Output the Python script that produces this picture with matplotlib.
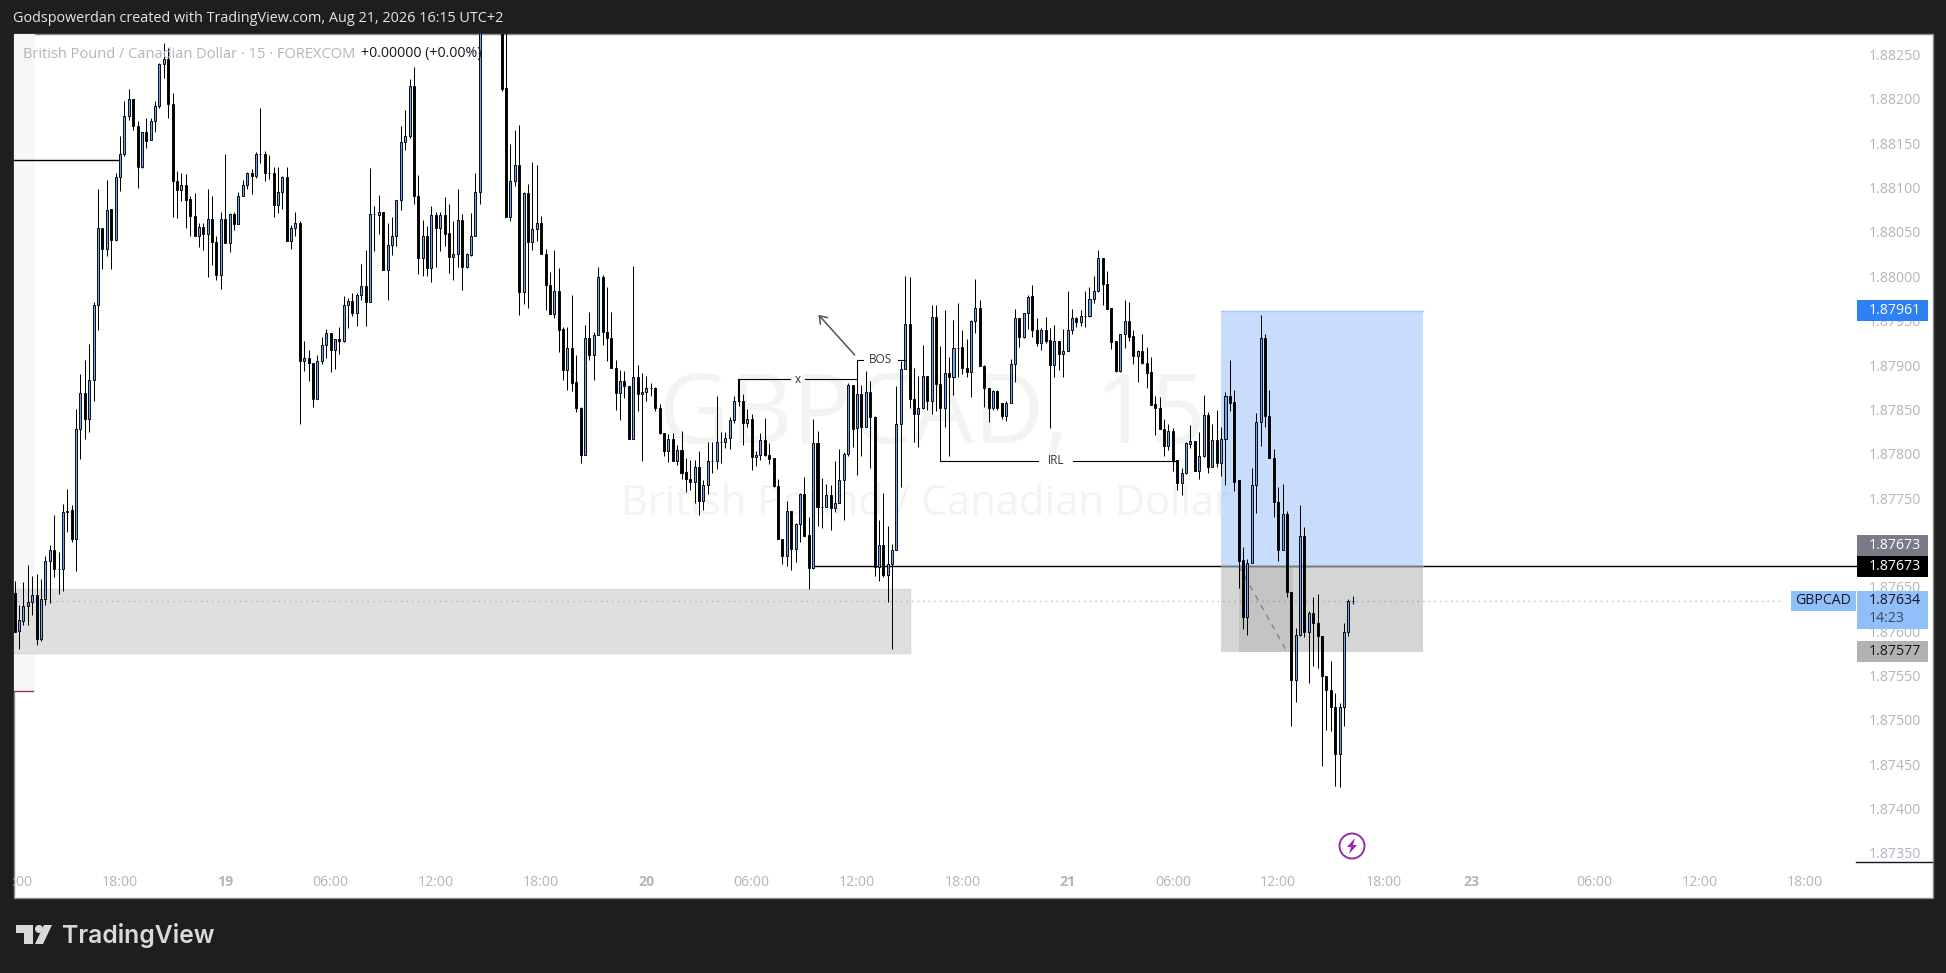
import numpy as np
from matplotlib import pyplot as plt
from matplotlib.patches import Rectangle, Circle, Polygon
from matplotlib.transforms import blended_transform_factory

plt.rcParams['font.family'] = ['Open Sans', 'DejaVu Sans']

BASE = 1.87
# 15 minute bars, in pipettes above BASE
open_pts = [643,600,611,628,633,641,591,636,679,691,670,670,735,736,704,828,869,839,883,968,
    1054,1031,1076,1041,1112,1138,1181,1200,1169,1123,1163,1154,1175,1192,1239,1245,1194,1107,1097,1103,
    1087,1068,1045,1056,1048,1065,1039,1001,1065,1038,1070,1059,1091,1103,1117,1113,1138,1138,1117,1117,
    1080,1095,1112,1040,1055,1060,904,908,902,862,905,923,936,917,929,927,968,972,959,979,
    989,971,1070,1069,1072,1007,1035,1045,1086,1151,1158,1215,1091,1021,1046,1009,1069,1055,1069,1049,
    1022,1025,1063,1010,1024,1046,1095,1300,1320,1335,1320,1300,1212,1067,1107,1126,982,1094,1039,1053,
    1060,1025,990,958,983,941,894,919,881,852,799,930,911,934,999,937,931,897,869,882,
    876,817,886,867,870,874,874,852,823,803,817,792,804,779,772,768,785,747,765,792,
    792,813,813,818,838,860,860,835,839,796,798,815,798,795,764,704,685,735,693,721,
    755,708,671,812,740,740,754,739,745,770,800,877,829,867,830,870,841,672,697,663,
    676,692,834,895,946,862,845,851,888,860,954,879,852,891,886,919,920,897,892,950,
    964,899,874,852,871,857,842,857,901,953,932,959,978,939,925,939,928,900,927,912,
    916,940,953,948,955,955,974,983,1021,991,964,927,893,935,950,933,910,916,902,892,
    856,852,828,809,826,793,767,778,811,814,781,797,844,785,815,790,817,865,858,770,
    680,616,677,765,836,931,842,795,746,692,732,644,545,596,707,599,620,609,595,549,
    534,514,461,515,599,634]
close_pts = [599,612,628,633,641,591,636,679,691,670,670,734,734,704,828,869,839,883,968,1054,
    1031,1075,1041,1112,1138,1181,1200,1169,1123,1163,1153,1175,1192,1239,1245,1194,1107,1097,1103,1086,
    1068,1045,1056,1048,1065,1039,1001,1065,1038,1070,1059,1091,1103,1117,1113,1138,1138,1117,1117,1080,
    1095,1112,1040,1055,1060,904,908,902,862,905,923,936,917,929,927,968,972,959,979,989,
    971,1070,1070,1072,1007,1035,1045,1086,1151,1158,1215,1090,1021,1046,1009,1069,1055,1069,1048,1022,
    1025,1063,1010,1025,1046,1095,1300,1320,1335,1320,1300,1211,1067,1107,1126,982,1094,1039,1053,1060,
    1025,990,958,983,940,894,919,880,852,799,930,911,934,999,937,931,897,869,882,876,
    817,886,867,870,874,874,852,823,803,817,792,804,778,772,768,785,747,765,792,792,
    813,813,818,838,859,859,835,839,796,798,815,798,794,764,704,685,735,693,721,755,
    707,671,812,740,740,754,739,745,770,800,877,828,867,830,870,841,672,697,663,676,
    692,834,895,946,862,845,851,888,860,954,879,852,891,886,919,919,897,892,950,964,
    899,874,852,871,851,842,857,901,953,932,959,977,939,925,939,927,900,927,912,916,
    940,953,948,955,955,974,983,1021,991,963,926,893,935,950,932,910,916,902,891,855,
    852,828,809,826,793,767,778,812,814,781,797,844,785,815,790,817,865,857,768,679,
    616,677,765,836,931,842,795,746,692,732,644,545,596,707,599,620,609,595,549,534,
    514,461,515,599,634,634]
high_pts = [657,629,655,675,662,664,659,685,697,731,689,743,760,742,850,890,906,924,971,1098,
    1054,1109,1076,1116,1158,1198,1211,1200,1175,1163,1179,1178,1198,1241,1263,1257,1207,1119,1117,1115,
    1090,1094,1060,1060,1098,1091,1046,1072,1138,1071,1072,1095,1109,1118,1121,1140,1190,1141,1137,1123,
    1123,1113,1123,1058,1072,1062,927,917,902,911,932,941,936,929,943,978,975,981,981,1014,
    1030,1122,1079,1092,1072,1060,1067,1086,1170,1187,1223,1236,1114,1064,1057,1079,1072,1073,1089,1082,
    1062,1098,1070,1026,1071,1117,1310,1335,1345,1350,1330,1310,1290,1149,1165,1171,1095,1104,1129,1125,
    1068,1031,1005,1030,1009,943,943,979,911,853,945,960,937,1010,1002,988,960,906,894,893,
    876,1012,900,891,888,880,875,856,823,822,823,810,826,795,793,793,803,770,813,813,
    865,824,825,841,865,884,867,850,845,803,823,840,812,795,771,704,747,735,722,756,
    774,729,839,826,773,766,765,792,805,802,880,877,905,877,893,882,842,725,756,718,
    698,876,904,1000,999,897,888,923,888,968,968,922,962,909,951,970,939,929,951,997,
    973,900,874,872,872,857,859,907,963,953,959,979,990,953,942,954,942,945,927,941,
    983,963,954,962,983,988,1000,1030,1021,1006,964,927,935,973,971,939,917,935,920,909,
    865,864,839,833,829,793,784,813,832,814,825,866,847,834,849,830,870,906,872,770,
    695,681,784,846,956,935,872,805,762,766,735,644,604,742,717,623,638,642,595,549,
    566,530,519,609,636,640]
low_pts = [599,580,607,607,618,584,589,630,632,661,642,645,712,701,668,794,817,825,860,940,
    1008,1023,1008,1040,1096,1136,1176,1165,1100,1122,1145,1154,1163,1190,1224,1179,1067,1066,1085,1054,
    1046,1045,1033,1030,999,1013,996,986,1038,1027,1052,1059,1091,1098,1093,1111,1128,1107,1110,1067,
    1071,1076,1040,1031,1046,833,893,882,853,862,901,908,892,896,912,926,942,955,944,973,
    944,971,1028,1048,1007,973,1024,1034,1075,1142,1156,1082,1003,1000,1000,994,1011,1029,1034,1004,
    996,1010,985,1009,1023,1046,1081,1290,1310,1305,1290,1209,1067,1062,1102,956,969,964,1030,1040,
    1025,962,957,953,915,883,872,871,847,790,799,906,883,934,923,904,897,849,838,863,
    817,817,848,792,860,865,848,822,797,791,792,787,772,757,759,744,731,736,755,778,
    783,790,807,805,835,854,810,830,782,786,793,797,788,763,704,676,673,669,678,700,
    707,647,670,718,716,740,714,734,745,725,797,808,776,797,830,784,662,657,661,633,
    580,692,763,895,851,813,808,850,849,845,848,792,830,797,866,887,890,887,864,936,
    899,853,836,849,849,839,837,857,881,920,931,941,932,921,917,925,829,886,894,887,
    916,935,943,944,943,954,970,982,968,963,918,892,892,919,927,901,881,901,874,855,
    821,828,797,804,781,759,754,777,806,781,772,796,778,785,785,775,765,848,758,649,
    602,596,677,733,809,830,795,729,679,692,638,493,520,595,593,542,561,558,448,489,
    487,425,424,493,595,631]

price_ticks = [1.87350, 1.87400, 1.87450, 1.87500, 1.87550, 1.87600, 1.87650, 1.87700, 1.87750, 1.87800,
    1.87850, 1.87900, 1.87950, 1.88000, 1.88050, 1.88100, 1.88150, 1.88200, 1.88250]
time_ticks = [0, 24, 48, 72, 96, 120, 144, 168, 192, 216, 240, 264, 288, 312, 332, 360, 384, 408]
time_labels = ['12:00', '18:00', '19', '06:00', '12:00', '18:00', '20', '06:00', '12:00', '18:00',
    '21', '06:00', '12:00', '18:00', '23', '06:00', '12:00', '18:00']
date_labels = ['19', '20', '21', '23']

last_price = 1.87634
entry_price = 1.87673
target_price = 1.87961
stop_price = 1.87577
zone_top = 1.87647
zone_bottom = 1.87575

DARK = '#1e1e1e'
TICK = '#b2b5be'
UP = '#6aa5f5'
LABEL_BLUE = '#90bff9'


def to_price(pts):
    return BASE + np.array(pts) / 1e5


def draw_candles(ax):
    o, h, l, c = map(to_price, (open_pts, high_pts, low_pts, close_pts))
    x = np.arange(len(o))
    ax.vlines(x, l, h, color='black', lw=0.72, zorder=4)
    up = c >= o
    ax.bar(x[up], (c - o)[up], bottom=o[up], width=0.46, color=UP, edgecolor='black', lw=0.65, zorder=5)
    ax.bar(x[~up], (c - o)[~up], bottom=o[~up], width=0.46, color='black', edgecolor='black', lw=0.65, zorder=5)


def draw_drawings(ax):
    # support zone
    ax.add_patch(Rectangle((-2, zone_bottom), 206.1, zone_top - zone_bottom, fc='#dfdfdf', ec='#d8d8d8', lw=1, zorder=1.5))
    # left session band and its red floor
    ax.add_patch(Rectangle((-2, 1.87532), 6.7, 0.1, fc='#f7f7f7', ec='none', zorder=1))
    ax.plot([-2, 4.2], [1.87532, 1.87532], color='#b2265f', lw=1, zorder=2)
    ax.plot([-2, 24], [1.88131, 1.88131], color='black', lw=1, zorder=3)
    ax.plot([182, 420], [entry_price, entry_price], color='black', lw=1, zorder=2)
    ax.plot([-2, 403], [last_price, last_price], color=LABEL_BLUE, lw=1, ls=(0, (1, 3)), zorder=2)

    # long position tool
    ax.add_patch(Rectangle((274.9, entry_price), 46.2, target_price - entry_price, fc='#5a96f5', alpha=0.33, ec='none', zorder=2.5))
    ax.plot([274.9, 321.1], [target_price, target_price], color='#a6c3f5', lw=1, zorder=2.6)
    ax.add_patch(Rectangle((274.9, stop_price), 46.2, entry_price - stop_price, fc='#808080', alpha=0.33, ec='none', zorder=2.5))
    ax.add_patch(Rectangle((279.1, stop_price), 12.2, entry_price - stop_price, fc='#808080', alpha=0.2, ec='none', zorder=2.6))
    ax.plot([274.9, 321.1], [entry_price, entry_price], color='#7a7a85', lw=1, zorder=2.7)
    ax.plot([279.1, 290], [1.87673, 1.87577], color='#80838d', lw=1, ls=(0, (4, 4)), zorder=2.8)

    # bracket labels
    ax.plot([164.9, 164.9], [1.87860, 1.87884], color='black', lw=0.8, zorder=6)
    ax.plot([164.9, 176.8], [1.87884, 1.87884], color='black', lw=0.8, zorder=6)
    ax.plot([180.2, 192], [1.87884, 1.87884], color='black', lw=0.8, zorder=6)
    ax.plot([192, 192], [1.87884, 1.87906], color='black', lw=0.8, zorder=6)
    ax.plot([192, 193.4], [1.87906, 1.87906], color='black', lw=0.8, zorder=6)
    ax.plot([201.4, 203], [1.87906, 1.87906], color='black', lw=0.8, zorder=6)
    ax.plot([211, 233.3], [1.87792, 1.87792], color='black', lw=0.8, zorder=6)
    ax.plot([241.3, 265], [1.87792, 1.87792], color='black', lw=0.8, zorder=6)
    ax.text(178.5, 1.87884, 'x', ha='center', va='center', fontsize=8.5, color='#333333', zorder=7)
    ax.text(197.4, 1.87906, 'BOS', ha='center', va='center', fontsize=8.5, color='#333333', zorder=7)
    ax.text(237.3, 1.87792, 'IRL', ha='center', va='center', fontsize=8.5, color='#333333', zorder=7)
    ax.annotate('', xy=(182.8, 1.87959), xytext=(191.9, 1.87909),
                arrowprops=dict(arrowstyle='->,head_length=0.5,head_width=0.35', color='#50535e', lw=1.1), zorder=6)


def price_tag(ax, price, text, bg, fg, height=21):
    # tag on the price scale, 21 px high by default
    tr = blended_transform_factory(ax.transAxes, ax.transData)
    half = height / 2 / 88700
    ax.add_patch(Rectangle((1.0, price - half), 70.7 / 1843.5, 2 * half, fc=bg, ec='none', transform=tr, clip_on=False, zorder=10))
    ax.text(1 + 12 / 1843.5, price, text, color=fg, ha='left', va='center', fontsize=10.2, transform=tr, clip_on=False, zorder=11)


fig = plt.figure(figsize=(19.46, 9.73), dpi=100, facecolor=DARK)

# pixel canvas behind the chart
back = fig.add_axes([0, 0, 1, 1], zorder=0)
back.set_xlim(0, 1946)
back.set_ylim(973, 0)
back.axis('off')
back.add_patch(Rectangle((13.5, 34), 1919, 863.5, fc='white', ec='#8a8a8a', lw=1))
back.text(932, 418, 'GBPCAD, 15', fontsize=70, color='#f2f4f4', ha='center', va='center')
back.text(926, 504, 'British Pound / Canadian Dollar', fontsize=30, color='#f2f4f4', ha='center', va='center')

ax = fig.add_axes([13.5 / 1946, 1 - 862 / 973, 1843.5 / 1946, 828 / 973], zorder=1)
ax.patch.set_alpha(0)
ax.set_xlim(-0.27, 419.95)
ax.set_ylim(BASE + 339.7 / 1e5, BASE + 1273.2 / 1e5)
for s in ax.spines.values():
    s.set_visible(False)

draw_drawings(ax)
draw_candles(ax)

ax.yaxis.tick_right()
ax.set_yticks(price_ticks)
ax.set_yticklabels(['%.5f' % p for p in price_ticks])
ax.tick_params(axis='y', length=0, pad=8.6, labelsize=10.2, labelcolor=TICK)
ax.set_xticks(time_ticks)
ax.set_xticklabels(time_labels)
ax.tick_params(axis='x', length=0, pad=9, labelsize=10.2, labelcolor=TICK)
for lab in ax.get_xticklabels():
    if lab.get_text() in date_labels:
        lab.set_fontweight('bold')

price_tag(ax, target_price, '%.5f' % target_price, '#2f7ff5', 'white')
price_tag(ax, entry_price + 21 / 88700, '%.5f' % entry_price, '#787b86', 'white')
price_tag(ax, entry_price, '%.5f' % entry_price, 'black', 'white')
price_tag(ax, stop_price, '%.5f' % stop_price, '#b2b2b2', '#131722')

# overlay in pixels: last price tag, header, logo, frame
top = fig.add_axes([0, 0, 1, 1], zorder=2)
top.set_xlim(0, 1946)
top.set_ylim(973, 0)
top.axis('off')
top.add_patch(Rectangle((1857, 590.7), 70.7, 38, fc=LABEL_BLUE, ec='none'))
top.add_patch(Rectangle((1791, 590.7), 65, 20.5, fc=LABEL_BLUE, ec='none'))
top.text(1823.5, 601, 'GBPCAD', fontsize=10.2, color='#131722', ha='center', va='center')
top.text(1869, 601, '%.5f' % last_price, fontsize=10.2, color='#131722', ha='left', va='center')
top.text(1869, 619, '14:23', fontsize=10.2, color='#3c4a5c', ha='left', va='center')
top.plot([1856, 1932], [862, 862], color='#131722', lw=1)
top.add_patch(Rectangle((0, 34), 13, 863, fc=DARK, ec='none'))

top.text(13, 19, 'Godspowerdan created with TradingView.com, Aug 21, 2026 16:15 UTC+2', fontsize=10.4, color='#e6e6e6', ha='left', va='center')
top.text(23, 54, 'British Pound / Canadian Dollar · 15 · FOREXCOM', fontsize=10.5, color=TICK, ha='left', va='center')
top.text(361, 54, '+0.00000 (+0.00%)', fontsize=10.2, color='#131722', ha='left', va='center')

# lightning badge
top.add_patch(Circle((1352, 846), 12.5, fc='white', ec='#9c27b0', lw=1.4))
top.add_patch(Polygon([(1355, 838), (1347, 847), (1351, 847), (1349, 854), (1357, 845), (1353, 845)], fc='#9c27b0', ec='none'))

# TradingView mark
LOGO = '#d9d9d9'
top.add_patch(Polygon([(16, 925), (33, 925), (33, 944), (24, 944), (24, 933), (16, 933)], fc=LOGO, ec='none'))
top.add_patch(Circle((39, 929), 4, fc=LOGO, ec='none'))
top.add_patch(Polygon([(44, 925), (52, 925), (43, 944), (35, 944)], fc=LOGO, ec='none'))
top.text(62, 935, 'TradingView', fontsize=17.8, fontweight='semibold', color=LOGO, ha='left', va='center', family=['Inter', 'DejaVu Sans'])

fig.savefig('out.png', dpi=100, facecolor=DARK)
